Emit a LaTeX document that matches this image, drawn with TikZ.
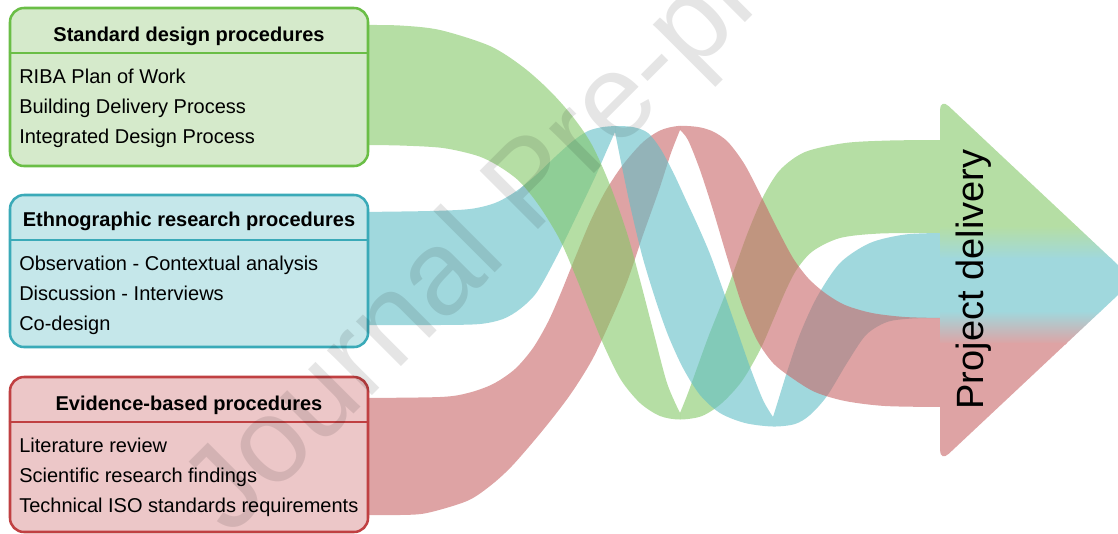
\documentclass[tikz,border=0pt]{standalone}
\usepackage{fontspec}
\setmainfont{Liberation Sans}
\definecolor{gfill}{RGB}{213,234,203}
\definecolor{gline}{RGB}{106,190,70}
\definecolor{tfill}{RGB}{197,231,234}
\definecolor{tline}{RGB}{58,170,184}
\definecolor{rfill}{RGB}{236,199,200}
\definecolor{rline}{RGB}{192,64,66}
\definecolor{gribbon}{RGB}{132,200,103}
\definecolor{tribbon}{RGB}{97,190,198}
\definecolor{rribbon}{RGB}{200,102,103}
\definecolor{agreen}{RGB}{181,222,164}
\definecolor{ateal}{RGB}{160,216,221}
\definecolor{ared}{RGB}{222,163,164}
\tikzset{
  procbox/.style={draw=#1line, fill=#1fill, line width=1.9pt, rounded corners=10.5pt,
    minimum width=268.5pt, inner sep=0pt},
  divider/.style={draw=#1line, line width=1.9pt},
  headtext/.style={font=\fontsize{15}{18}\selectfont\bfseries, anchor=base, inner sep=0pt},
  itemtext/.style={font=\fontsize{15}{18}\selectfont, anchor=base west, inner sep=0pt},
  ribbon/.style={fill=#1ribbon, fill opacity=0.6},
}
\def\greenribbon{plot[smooth] coordinates {(360,25) (400,25.5) (440,30) (490,46) (523,67) (550,91) (573,117) (592,145) (610,185) (627,233) (640,280) (653,330) (667,383) (680,413)}
 -- plot[smooth] coordinates {(680,413) (688,393) (697,368) (709,335) (723,300) (736,265) (748,232) (763,197) (780,170) (805,152) (845,143) (890,140.5) (942,140)}
 -- plot[smooth] coordinates {(942,233) (880,233.5) (840,238) (813,251) (797,269) (786,290) (774,318) (760,350) (742,381) (722,403) (702,416) (680,419.5) (660,416) (640,403) (621,380) (605,348) (590,312) (576,277) (560,240) (540,207) (520,182) (500,167) (478,156) (443,148) (400,145.5) (360,145)} -- cycle}
\def\tealribbon{plot[smooth] coordinates {(360,212) (430,211) (470,209) (495,203) (515,192) (535,176) (555,157) (573,141) (588,131) (603,127) (620,126) (635,127.5) (648,133) (660,148) (673,172) (686,200) (698,226) (710,254) (722,287) (735,324) (750,367) (763,400) (773,417)}
 -- plot[smooth] coordinates {(773,417) (778,401) (787,372) (800,334) (817,297) (840,263) (870,243) (905,234.5) (942,233)}
 -- plot[smooth] coordinates {(942,318) (912,318.5) (887,322) (866,335) (847,363) (827,396) (810,415) (795,424) (773,426.5) (745,423) (720,413) (700,395) (683,368) (668,335) (655,298) (642,255) (630,205) (621,162) (615,132)}
 -- plot[smooth] coordinates {(615,132) (607,150) (596,175) (578,213) (557,256) (537,292) (520,309) (503,319) (480,324) (440,325) (360,325)} -- cycle}
\def\redribbon{plot[smooth] coordinates {(360,398) (440,397) (468,393) (493,384) (515,369) (533,348) (548,322) (560,295) (575,258) (590,222) (605,192) (622,166) (642,143) (660,130.5) (678,126) (698,127) (713,131.5) (728,142) (745,165) (763,200) (778,230) (793,258) (808,278) (825,293) (845,305) (872,313) (905,317) (942,318)}
 -- plot[smooth] coordinates {(942,407) (885,406) (845,401) (815,392) (792,378) (773,363) (757,340) (742,305) (727,257) (713,210) (700,170) (688,140) (680,130)}
 -- plot[smooth] coordinates {(680,130) (671,153) (659,190) (643,235) (627,282) (610,322) (592,360) (570,395) (543,430) (512,466) (490,486) (467,501) (427,513) (400,515) (360,515)} -- cycle}
\begin{document}
\begin{tikzpicture}[x=0.75pt, y=-0.75pt]
\useasboundingbox (0,0) rectangle (1118,533);
\clip (0,0) rectangle (1118,533);
% ribbons, left halves
\begin{scope}\clip (0,0) rectangle (680,533); \fill[ribbon=r] \redribbon; \end{scope}
\begin{scope}\clip (0,0) rectangle (615,533); \fill[ribbon=t] \tealribbon; \end{scope}
\begin{scope}\clip (0,0) rectangle (680,533); \fill[ribbon=g] \greenribbon; \end{scope}
% ribbons, right halves
\begin{scope}\clip (680,0) rectangle (1118,533); \fill[ribbon=g] \greenribbon; \end{scope}
\begin{scope}\clip (615,0) rectangle (1118,533); \fill[ribbon=t] \tealribbon; \end{scope}
\begin{scope}\clip (680,0) rectangle (1118,533); \fill[ribbon=r] \redribbon; \end{scope}
% arrow
\begin{scope}
  \clip[rounded corners=9pt] (940,98) -- (1134,280) -- (940,462) -- cycle;
  \fill[agreen] (930,90) rectangle (1140,227);
  \shade[top color=agreen, bottom color=ateal] (930,226) rectangle (1140,259);
  \fill[ateal] (930,258) rectangle (1140,312);
  \shade[top color=ateal, bottom color=ared] (930,311) rectangle (1140,344);
  \fill[ared] (930,343) rectangle (1140,470);
\end{scope}
\node[rotate=90, anchor=base, inner sep=0pt, font=\fontsize{28.5}{30}\selectfont] (pd) at (983,279.5) {Project delivery};
% boxes
\node[procbox=g, minimum height=118.5pt] (box1) at (189,87) {};
\coordinate (d1) at (0,53);
\draw[divider=g] (box1.west |- d1) -- (box1.east |- d1);
\node[headtext] (h1) at (189,41) {Standard design procedures};
\node[itemtext] (i11) at (19,83) {RIBA Plan of Work};
\node[itemtext] (i12) at (19,113) {Building Delivery Process};
\node[itemtext] (i13) at (19,143) {Integrated Design Process};

\node[procbox=t, minimum height=114pt] (box2) at (189,271) {};
\coordinate (d2) at (0,240);
\draw[divider=t] (box2.west |- d2) -- (box2.east |- d2);
\node[headtext] (h2) at (189,226) {Ethnographic research procedures};
\node[itemtext] (i21) at (19,270) {Observation - Contextual analysis};
\node[itemtext] (i22) at (19,300) {Discussion - Interviews};
\node[itemtext] (i23) at (19,330) {Co-design};

\node[procbox=r, minimum height=116.25pt] (box3) at (189,454.5) {};
\coordinate (d3) at (0,422);
\draw[divider=r] (box3.west |- d3) -- (box3.east |- d3);
\node[headtext] (h3) at (189,410) {Evidence-based procedures};
\node[itemtext] (i31) at (19,452) {Literature review};
\node[itemtext] (i32) at (19,482) {Scientific research findings};
\node[itemtext] (i33) at (19,512) {Technical ISO standards requirements};
% watermark
\node[rotate=45, anchor=base west, inner sep=0pt, text=black, text opacity=0.1,
  font=\fontsize{90}{90}\selectfont] (wm) at (230,538) {Journal Pre-proof};
\end{tikzpicture}
\end{document}
